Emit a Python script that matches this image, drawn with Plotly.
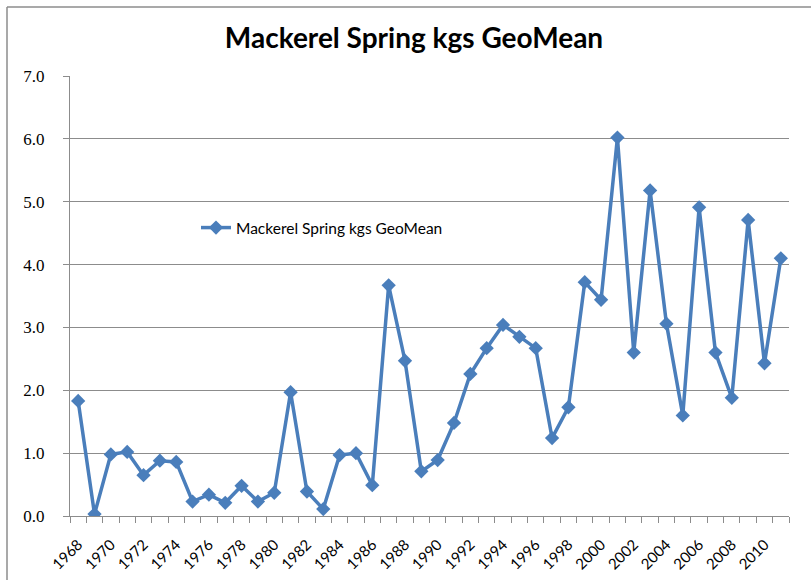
import plotly.graph_objects as go

years = list(range(1968, 2012))
values = [1.83, 0.03, 0.98, 1.02, 0.65, 0.88, 0.86, 0.23, 0.34, 0.21,
          0.48, 0.23, 0.37, 1.97, 0.39, 0.11, 0.97, 1.00, 0.49, 3.67,
          2.47, 0.71, 0.89, 1.48, 2.26, 2.67, 3.04, 2.85, 2.67, 1.24,
          1.73, 3.72, 3.44, 6.02, 2.60, 5.18, 3.06, 1.60, 4.91, 2.60,
          1.88, 4.71, 2.43, 4.10]
tick_years = list(range(1968, 2011, 2))
tick_labels = [str(y) for y in tick_years]
boundaries = [y - 0.5 for y in range(1968, 2013)]
y_ticks = [0, 1, 2, 3, 4, 5, 6, 7]
y_labels = ["0.0", "1.0", "2.0", "3.0", "4.0", "5.0", "6.0", "7.0"]
series_name = "Mackerel Spring kgs GeoMean"
title_text = "Mackerel Spring kgs GeoMean"

W, H = 811, 580
L, R, T, B = 70, 22, 76, 64
pw, ph = W - L - R, H - T - B

def px_x(p):
    return (p - L) / pw

def px_y(p):
    return (H - B - p) / ph

fig = go.Figure()
fig.add_trace(go.Scatter(
    x=years, y=values, mode="lines+markers", name=series_name,
    line=dict(color="#4A7EBB", width=3.5),
    marker=dict(symbol="diamond", size=11, color="#4A7EBB"),
    showlegend=True,
))

grid = "#8C8C8C"
fig.update_layout(
    width=W, height=H,
    margin=dict(l=L, r=R, t=T, b=B, autoexpand=False),
    paper_bgcolor="white", plot_bgcolor="white",
    title=dict(text="<b>" + title_text + "</b>", x=414 / W, xanchor="center",
               y=1 - 38 / H, yanchor="middle",
               font=dict(family="Lato, Open Sans, sans-serif", size=28, color="black")),
    showlegend=True,
    legend=dict(x=px_x(196), y=px_y(228), xanchor="left", yanchor="middle",
                bgcolor="rgba(255,255,255,0)", borderwidth=0,
                font=dict(family="Lato, Open Sans, sans-serif", size=15.5, color="black"),
                itemwidth=30),
    xaxis=dict(
        range=[1967.5, 2011.5], tickmode="array", tickvals=tick_years, ticktext=tick_labels,
        tickangle=-45, ticks="", showgrid=False, zeroline=False,
        showline=True, linecolor=grid, linewidth=1, automargin=False,
        ticklabelstandoff=13,
        tickfont=dict(family="Lato, Open Sans, sans-serif", size=15, color="black"),
        minor=dict(tickmode="array", tickvals=boundaries, ticks="outside",
                   ticklen=6, tickcolor=grid, showgrid=False),
    ),
    yaxis=dict(
        range=[0, 7], tickmode="array", tickvals=y_ticks, ticktext=y_labels,
        showgrid=True, gridcolor=grid, gridwidth=1, zeroline=False,
        showline=True, linecolor=grid, linewidth=1, automargin=False,
        ticks="outside", ticklen=6, tickcolor=grid, ticklabelstandoff=15,
        tickfont=dict(family="Liberation Serif, DejaVu Serif, serif", size=17, color="black"),
    ),
    shapes=[
        dict(type="line", xref="paper", yref="paper", x0=px_x(7), x1=px_x(7),
             y0=px_y(7), y1=px_y(H + 5), line=dict(color="#8C8C8C", width=1.5)),
        dict(type="line", xref="paper", yref="paper", x0=px_x(7), x1=px_x(W + 5),
             y0=px_y(7), y1=px_y(7), line=dict(color="#8C8C8C", width=1.5)),
    ],
)

fig.write_html("out.html", config={"displayModeBar": False},
               post_script="document.body.style.margin='0';document.body.style.overflow='hidden';")
